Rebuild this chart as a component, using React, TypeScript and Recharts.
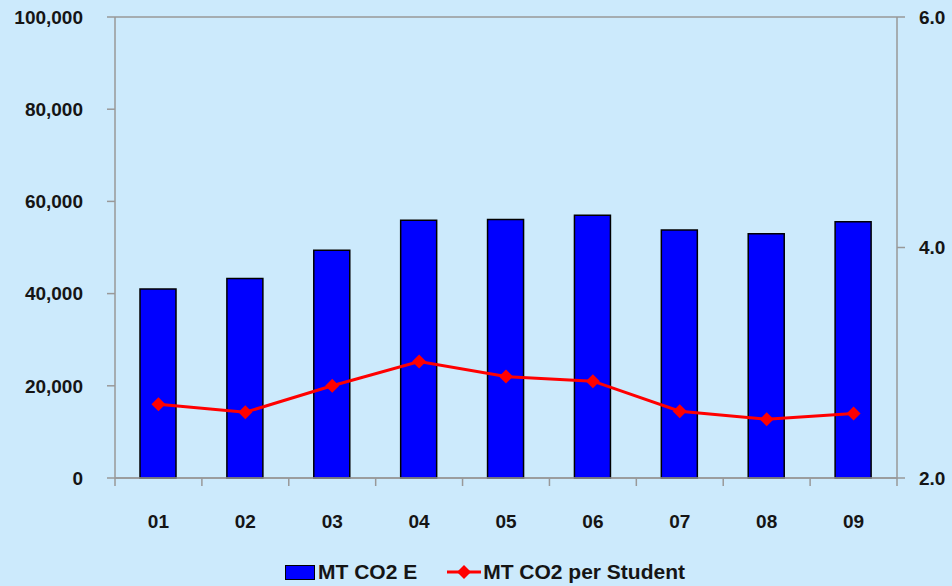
import { ComposedChart, Bar, Line, XAxis, YAxis, CartesianGrid, Legend } from "recharts";

const years = ["01", "02", "03", "04", "05", "06", "07", "08", "09"];
const co2Total = [41000, 43300, 49400, 55900, 56100, 57000, 53800, 53000, 55600];
const co2PerStudent = [2.64, 2.57, 2.8, 3.01, 2.88, 2.84, 2.58, 2.51, 2.56];
const leftTicks = [0, 20000, 40000, 60000, 80000, 100000];
const rightTicks = [2, 4, 6];

const data = years.map((y, i) => ({ year: y, total: co2Total[i], perStudent: co2PerStudent[i] }));

const FONT = "'Liberation Sans', Arial, sans-serif";
const AXIS = "#999999";

const XTick = (props: any) => {
  const { x, y, payload, index, width, visibleTicksCount } = props;
  const bw = width / (visibleTicksCount || years.length);
  const top = y - 8;
  const last = index === years.length - 1;
  return (
    <g>
      <line x1={x - bw / 2} x2={x - bw / 2} y1={top} y2={top + 8} stroke={AXIS} strokeWidth={1.5} />
      {last && <line x1={x + bw / 2} x2={x + bw / 2} y1={top} y2={top + 8} stroke={AXIS} strokeWidth={1.5} />}
      <text x={x} y={top + 50} textAnchor="middle" fontFamily={FONT} fontWeight="bold" fontSize={19} fill="#151515">
        {payload.value}
      </text>
    </g>
  );
};

const Diamond = (props: any) => {
  const { cx, cy, index } = props;
  if (cx == null || cy == null) return <g key={index} />;
  const r = 7;
  return (
    <path key={index} d={`M${cx},${cy - r}L${cx + r},${cy}L${cx},${cy + r}L${cx - r},${cy}Z`} fill="#ff0000" />
  );
};

const LegendBox = () => (
  <div
    style={{
      display: "flex",
      justifyContent: "center",
      alignItems: "center",
      fontFamily: FONT,
      fontWeight: "bold",
      fontSize: 21,
      color: "#151515",
      paddingLeft: 18,
    }}
  >
    <span style={{ display: "inline-block", width: 28, height: 13, background: "#0000ff", border: "1.5px solid #000", marginRight: 3 }} />
    <span style={{ marginRight: 30 }}>MT CO2 E</span>
    <svg width={34} height={16} style={{ marginRight: 2 }}>
      <line x1={0} x2={34} y1={8} y2={8} stroke="#ff0000" strokeWidth={3} />
      <path d="M17,1L24,8L17,15L10,8Z" fill="#ff0000" />
    </svg>
    <span>MT CO2 per Student</span>
  </div>
);

export default function App() {
  return (
    <div style={{ position: "absolute", left: 0, top: 0, width: 952, height: 586, background: "#cceafc" }}>
      <ComposedChart width={952} height={586} data={data} margin={{ top: 17, right: 0, bottom: 0, left: 0 }}>
        <CartesianGrid vertical={false} stroke={AXIS} strokeWidth={1.5} />
        <XAxis
          dataKey="year"
          axisLine={{ stroke: AXIS, strokeWidth: 1.5 }}
          tickLine={false}
          tickSize={8}
          tickMargin={0}
          height={60}
          tick={<XTick />}
          interval={0}
        />
        <YAxis
          yAxisId="left"
          domain={[0, 100000]}
          ticks={leftTicks}
          width={115}
          tickSize={8}
          tickMargin={24}
          axisLine={{ stroke: AXIS, strokeWidth: 1.5 }}
          tickLine={{ stroke: AXIS, strokeWidth: 1.5 }}
          tickFormatter={(v: number) => v.toLocaleString("en-US")}
          tick={{ fontFamily: FONT, fontWeight: "bold", fontSize: 19, fill: "#151515" }}
        />
        <YAxis
          yAxisId="right"
          orientation="right"
          domain={[2, 6]}
          ticks={rightTicks}
          width={55}
          tickSize={8}
          tickMargin={14}
          axisLine={{ stroke: AXIS, strokeWidth: 1.5 }}
          tickLine={{ stroke: AXIS, strokeWidth: 1.5 }}
          tickFormatter={(v: number) => v.toFixed(1)}
          tick={{ fontFamily: FONT, fontWeight: "bold", fontSize: 19, fill: "#151515" }}
        />
        <Legend verticalAlign="bottom" height={48} content={<LegendBox />} wrapperStyle={{ top: 560, bottom: "auto" }} />
        <Bar
          yAxisId="left"
          dataKey="total"
          name="MT CO2 E"
          fill="#0000ff"
          stroke="#000000"
          strokeWidth={1.5}
          barSize={36}
          isAnimationActive={false}
        />
        <Line
          yAxisId="right"
          dataKey="perStudent"
          name="MT CO2 per Student"
          type="linear"
          stroke="#ff0000"
          strokeWidth={3}
          dot={Diamond}
          activeDot={false}
          isAnimationActive={false}
        />
      </ComposedChart>
    </div>
  );
}
